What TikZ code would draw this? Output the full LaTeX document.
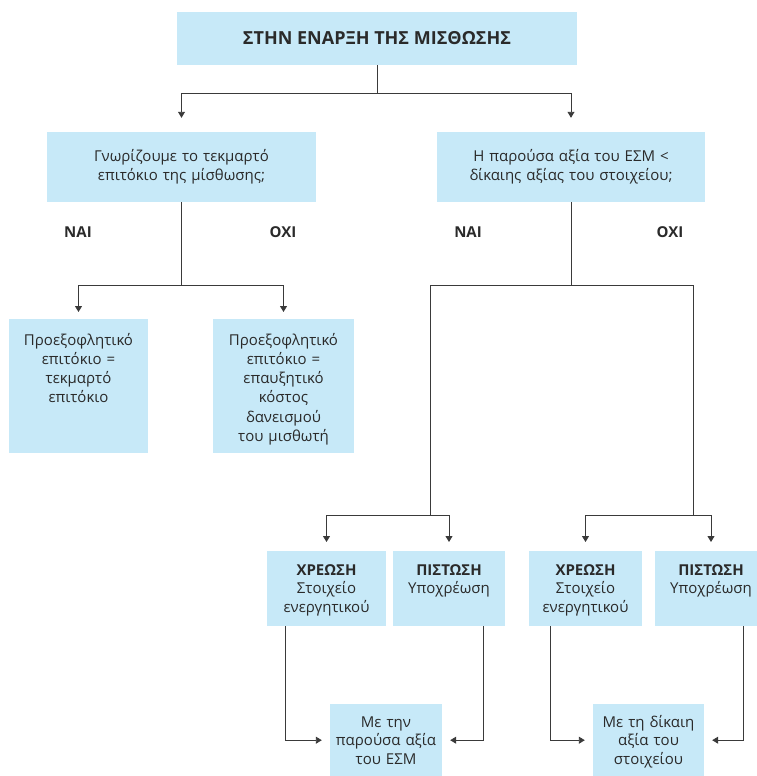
\documentclass[tikz,border=0pt]{standalone}
\usepackage{fontspec}
\setmainfont{Open Sans}
\usepackage{tikz}
\usepackage{xcolor}
\usetikzlibrary{arrows.meta}
\definecolor{paleblue}{HTML}{C7E9F8}
\definecolor{inkgray}{HTML}{2A2A2A}
\definecolor{wiregray}{HTML}{3A3A3A}

\begin{document}
\begin{tikzpicture}[x=1pt, y=-1pt,
    box/.style={fill=paleblue, text=inkgray, align=center, inner xsep=0pt, inner ysep=0pt, font=\fontsize{15}{18.5}\selectfont},
    topbox/.style={box, anchor=north, text width=#1},
    answer/.style={text=inkgray, font=\fontsize{15}{17}\selectfont\bfseries},
    wire/.style={draw=wiregray, line width=0.9pt},
    arr/.style={wire, -{Triangle[width=7pt, length=6pt]}}]
\useasboundingbox (0,0) rectangle (756,776);

                \node[box, minimum width=400pt, minimum height=53pt, font=\fontsize{18}{20}\selectfont\bfseries]
                (start) at (377, 38.5) {ΣΤΗΝ ΕΝΑΡΞΗ ΤΗΣ ΜΙΣΘΩΣΗΣ};

                \node[box, text width=269pt, minimum height=70pt] (known) at (181.5, 167) {Γνωρίζουμε το τεκμαρτό\\ επιτόκιο της μίσθωσης;};
                \node[box, text width=268pt, minimum height=70pt] (compare) at (571, 167) {Η παρούσα αξία του ΕΣΜ <\\ δίκαιης αξίας του στοιχείου;};

                \node[answer] (yesA) at (78, 232) {ΝΑΙ};
                \node[answer] (noA) at (283, 232) {ΟΧΙ};
                \node[answer] (yesB) at (468, 232) {ΝΑΙ};
                \node[answer] (noB) at (670, 232) {ΟΧΙ};

                \node[topbox=139pt, text height=26pt, text depth=108pt, font=\fontsize{15}{19.2}\selectfont]
                (rateA) at (78.5, 319) {Προεξοφλητικό\\ επιτόκιο =\\ τεκμαρτό\\ επιτόκιο};
                \node[topbox=141pt, text height=26pt, text depth=108pt, font=\fontsize{15}{19.2}\selectfont]
                (rateB) at (283.5, 319) {Προεξοφλητικό\\ επιτόκιο =\\ επαυξητικό\\ κόστος\\ δανεισμού\\ του μισθωτή};

                \node[topbox=119pt, text height=24pt, text depth=51pt] (debitA) at (326.5, 551) {\textbf{ΧΡΕΩΣΗ}\\ Στοιχείο\\ ενεργητικού};
                \node[topbox=112pt, text height=24pt, text depth=51pt] (creditA) at (449, 551) {\textbf{ΠΙΣΤΩΣΗ}\\ Υποχρέωση};
                \node[topbox=113pt, text height=24pt, text depth=51pt] (debitB) at (585.5, 551) {\textbf{ΧΡΕΩΣΗ}\\ Στοιχείο\\ ενεργητικού};
                \node[topbox=112pt, text height=24pt, text depth=51pt] (creditB) at (711, 551) {\textbf{ΠΙΣΤΩΣΗ}\\ Υποχρέωση};

                \node[topbox=112pt, text height=23pt, text depth=49pt] (presentval) at (386, 704) {Με την\\ παρούσα αξία\\ του ΕΣΜ};
                \node[topbox=111pt, text height=23pt, text depth=49pt] (fairval) at (648.5, 704) {Με τη δίκαιη\\ αξία του\\ στοιχείου};

                \draw[arr] (start.south) |- ([yshift=38pt]known.north) -- ([yshift=14pt]known.north);
                \draw[arr] (start.south) |- ([yshift=38pt]compare.north) -- ([yshift=14pt]compare.north);

                \draw[arr] (known.south) |- ([yshift=34pt]rateA.north) -- ([yshift=7pt]rateA.north);
                \draw[arr] (known.south) |- ([yshift=34pt]rateB.north) -- ([yshift=7pt]rateB.north);

                \coordinate (splitL) at (430, 285);
                \coordinate (splitR) at (693, 285);
                \coordinate (forkL) at (430, 515);
                \coordinate (forkR) at (693, 515);
                \draw[wire] (compare.south) |- (splitL) -- (forkL);
                \draw[wire] (compare.south) |- (splitR) -- (forkR);
                \draw[arr] (forkL) -| ([yshift=9pt]debitA.north);
                \draw[arr] (forkL) -| ([yshift=9pt]creditA.north);
                \draw[arr] (forkR) -| ([yshift=9pt]debitB.north);
                \draw[arr] (forkR) -| ([yshift=9pt]creditB.north);

                \draw[arr] ([xshift=19pt]debitA.south west) |- ([xshift=-8pt]presentval.west);
                \draw[arr] ([xshift=-22pt]creditA.south east) |- ([xshift=8pt]presentval.east);
                \draw[arr] ([xshift=22pt]debitB.south west) |- ([xshift=-8pt]fairval.west);
                \draw[arr] ([xshift=-24pt]creditB.south east) |- ([xshift=8pt]fairval.east);
            \end{tikzpicture}
\end{document}
